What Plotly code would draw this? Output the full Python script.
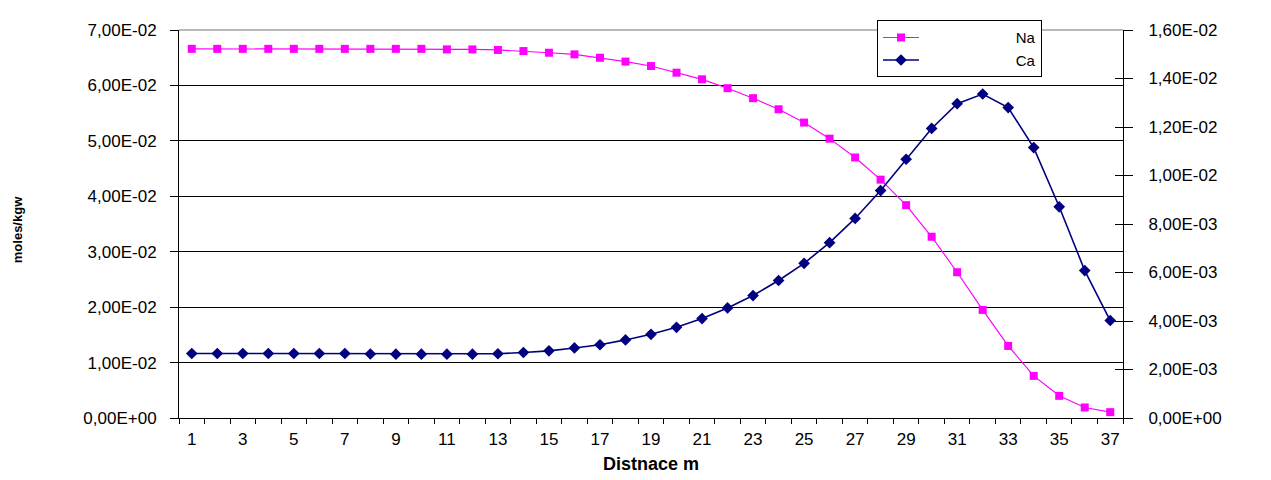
import plotly.graph_objects as go

distance = list(range(1, 38))

na = [0.0666, 0.0666, 0.0666, 0.0666, 0.0666, 0.0666, 0.0666, 0.0666, 0.0666, 0.0666,
      0.0665, 0.0665, 0.0664, 0.0662, 0.0659, 0.0656, 0.0650, 0.0643, 0.0635, 0.0623,
      0.0611, 0.0595, 0.0577, 0.0557, 0.0533, 0.0504, 0.0470, 0.0430, 0.0384, 0.0327,
      0.0263, 0.0195, 0.0130, 0.0076, 0.0040, 0.0019, 0.00105]

ca = [0.00266, 0.00266, 0.00266, 0.00266, 0.00266, 0.00266, 0.00266, 0.00264, 0.00263, 0.00263,
      0.00263, 0.00263, 0.00265, 0.00270, 0.00277, 0.00289, 0.00302, 0.00322, 0.00345, 0.00374,
      0.00410, 0.00454, 0.00505, 0.00567, 0.00638, 0.00723, 0.00823, 0.00938, 0.01067, 0.01194,
      0.01296, 0.01336, 0.01280, 0.01115, 0.00871, 0.00608, 0.00402]

left_ticks = [0.0, 0.01, 0.02, 0.03, 0.04, 0.05, 0.06, 0.07]
left_labels = ["0,00E+00", "1,00E-02", "2,00E-02", "3,00E-02", "4,00E-02",
               "5,00E-02", "6,00E-02", "7,00E-02"]
right_ticks = [0.0, 0.002, 0.004, 0.006, 0.008, 0.010, 0.012, 0.014, 0.016]
right_labels = ["0,00E+00", "2,00E-03", "4,00E-03", "6,00E-03", "8,00E-03",
                "1,00E-02", "1,20E-02", "1,40E-02", "1,60E-02"]
x_ticks = list(range(1, 38, 2))

FONT = "Liberation Sans, Arial, sans-serif"
NB = "\u00a0"

# page has an 8px body margin: plot area target 179..1123 x 19.5..418 in window px
W, H = 1263, 472
L, T = 171, 12
R = W - (1123 - 8)
B = H - (418 - 8)
PH = 398.5
RIGHT_RANGE = [0, 0.016]

fig = go.Figure()
fig.add_trace(go.Scatter(
    x=distance, y=na, name=NB * 22 + "Na", mode="lines+markers",
    line=dict(color="#FF00FF", width=1.2),
    marker=dict(symbol="square", size=8, color="#FF00FF"),
    yaxis="y"))
fig.add_trace(go.Scatter(
    x=distance, y=ca, name=NB * 22 + "Ca", mode="lines+markers",
    line=dict(color="#000080", width=1.6),
    marker=dict(symbol="diamond", size=9, color="#000080"),
    yaxis="y2"))
# empty helper traces so the extra right-hand axes are drawn
for ax in ("y3", "y4"):
    fig.add_trace(go.Scatter(x=[None], y=[None], yaxis=ax, mode="markers",
                             showlegend=False, hoverinfo="skip"))

fig.update_layout(
    width=W, height=H,
    margin=dict(l=L, r=R, t=T, b=B),
    paper_bgcolor="white", plot_bgcolor="white",
    font=dict(family=FONT, size=17, color="black"),
    showlegend=True,
    legend=dict(
        x=(877 - 179) / 944, y=1.0 + 10 / PH, xanchor="left", yanchor="top",
        bgcolor="white", bordercolor="black", borderwidth=1,
        font=dict(family=FONT, size=15, color="black"),
        tracegroupgap=0, itemwidth=36,
    ),
    xaxis=dict(
        range=[0.5, 37.5], tickmode="array", tickvals=x_ticks,
        ticktext=[str(v) for v in x_ticks],
        ticks="", showgrid=False, zeroline=False,
        showline=True, linecolor="black", linewidth=1,
        ticklabelstandoff=6,
        minor=dict(tickmode="linear", tick0=0.5, dtick=1, ticks="outside",
                   ticklen=5, tickcolor="black", showgrid=False),
        tickfont=dict(family=FONT, size=17),
    ),
    yaxis=dict(
        range=[0, 0.07], tickmode="array", tickvals=left_ticks, ticktext=left_labels,
        ticks="outside", ticklen=8, tickcolor="black",
        showline=True, linecolor="black", linewidth=1,
        showgrid=True, gridcolor="black", gridwidth=1, zeroline=False,
        ticklabelstandoff=10,
        tickfont=dict(family=FONT, size=17),
    ),
    # right axis carrying Ca: line + inside half of the crossing ticks
    yaxis2=dict(
        range=RIGHT_RANGE, tickmode="array", tickvals=right_ticks,
        overlaying="y", side="right",
        ticks="inside", ticklen=8, tickcolor="black",
        showline=True, linecolor="black", linewidth=1,
        showgrid=False, zeroline=False, showticklabels=False,
    ),
    # outside half of the crossing ticks
    yaxis3=dict(
        range=RIGHT_RANGE, tickmode="array", tickvals=right_ticks,
        overlaying="y", side="right",
        ticks="outside", ticklen=9, tickcolor="black",
        showline=True, linecolor="black", linewidth=1,
        showgrid=False, zeroline=False, showticklabels=False,
    ),
    # right tick labels, shifted out from the axis line
    yaxis4=dict(
        range=RIGHT_RANGE, tickmode="array", tickvals=right_ticks, ticktext=right_labels,
        overlaying="y", side="right", anchor="free", position=1.0, shift=12,
        ticks="outside", ticklen=9, tickcolor="rgba(0,0,0,0)",
        showline=False, showgrid=False, zeroline=False,
        tickfont=dict(family=FONT, size=17),
    ),
    shapes=[dict(type="line", xref="paper", yref="paper", x0=0, x1=1, y0=1, y1=1,
                 line=dict(color="#A0A0A0", width=1.5), layer="above")],
    annotations=[
        dict(text="<b>Distnace m</b>", xref="paper", yref="paper", x=0.5, y=-0.118,
             xanchor="center", yanchor="middle", showarrow=False,
             font=dict(family=FONT, size=18)),
        dict(text="<b>moles/kgw</b>", xref="paper", yref="paper",
             x=(17 - 179) / 944, y=0.484,
             xanchor="center", yanchor="middle", showarrow=False, textangle=-90,
             font=dict(family=FONT, size=13)),
    ],
)

fig.write_html("out.html")
